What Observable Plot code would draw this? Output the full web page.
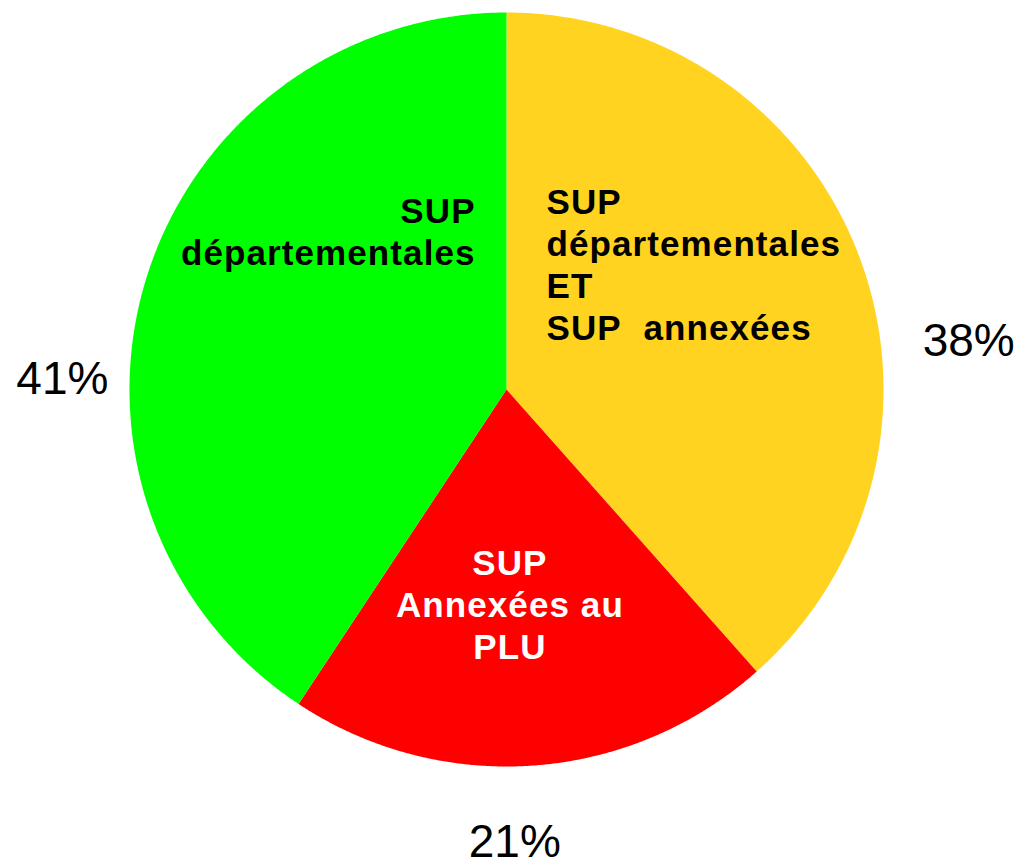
<!DOCTYPE html>
<html>
<head>
<meta charset="utf-8">
<script src="https://cdn.jsdelivr.net/npm/d3@7"></script>
<script src="https://cdn.jsdelivr.net/npm/@observablehq/plot@0.6"></script>
<style>
  html, body { margin: 0; padding: 0; background: #ffffff; }
  #chart svg { display: block; }
</style>
</head>
<body>
<div id="chart"></div>
<script>
// ---- data ----
const categories = ["SUP départementales ET SUP annexées", "SUP Annexées au PLU", "SUP départementales"];
const shares = [38.45, 20.85, 40.7];
const percentLabels = ["38%", "21%", "41%"];
const sliceLabels = [
  "SUP\ndépartementales\nET\nSUP\u00a0\u00a0annexées",
  "SUP\nAnnexées au\nPLU",
  "SUP\ndépartementales"
];
const sliceColors = ["#ffd320", "#ff0000", "#00ff00"];
const labelColors = ["#000000", "#ffffff", "#000000"];

// ---- layout (in pie-radius units, origin at pie centre) ----
const percentPos = [[1.226, 0.090], [0.022, -1.241], [-1.178, -0.011]];
const labelPos = [[0.106, 0.130], [0.009, -0.714], [-0.082, 0.329]];
const labelAnchor = ["start", "middle", "end"];

// ---- build slices with d3.pie ----
const arcs = d3.pie().sort(null).startAngle(0).endAngle(2 * Math.PI)(shares);
const slices = arcs.map((a, i) => {
  const pts = [{x: 0, y: 0}];
  const n = Math.max(2, Math.ceil((a.endAngle - a.startAngle) / (Math.PI / 720)));
  for (let k = 0; k <= n; ++k) {
    const t = a.startAngle + (a.endAngle - a.startAngle) * k / n;
    pts.push({x: Math.sin(t), y: Math.cos(t)});
  }
  pts.push({x: 0, y: 0});
  return {category: categories[i], color: sliceColors[i], points: pts};
});

const percentData = percentLabels.map((t, i) => ({text: t, x: percentPos[i][0], y: percentPos[i][1]}));
const labelData = sliceLabels.map((t, i) => ({text: t, x: labelPos[i][0], y: labelPos[i][1], anchor: labelAnchor[i], color: labelColors[i]}));

const cx = 506, cy = 389, R = 377;

const chart = Plot.plot({
  width: 1021,
  height: 860,
  margin: 0,
  style: {fontFamily: "'Liberation Sans', Arial, sans-serif", background: "#ffffff"},
  x: {domain: [-1, 1], range: [cx - R, cx + R], axis: null},
  y: {domain: [-1, 1], range: [cy + R, cy - R], axis: null},
  marks: [
    slices.map(s => Plot.line(s.points, {x: "x", y: "y", fill: s.color, stroke: "none", curve: "linear"})),
    ...["start", "middle", "end"].map(anc =>
      Plot.text(labelData.filter(d => d.anchor === anc), {
        x: "x", y: "y", text: "text", fill: "color",
        textAnchor: anc, lineAnchor: "bottom", lineHeight: 1.2,
        fontSize: 35, fontWeight: "bold",
        render(index, scales, values, dimensions, context, next) {
          const g = next(index, scales, values, dimensions, context);
          g.setAttribute("letter-spacing", "1.1px");
          return g;
        }
      })
    ),
    Plot.text(percentData, {
      x: "x", y: "y", text: "text", fill: "#000000",
      textAnchor: "middle", lineAnchor: "bottom", fontSize: 46
    })
  ]
});
document.getElementById("chart").appendChild(chart);
</script>
</body>
</html>
